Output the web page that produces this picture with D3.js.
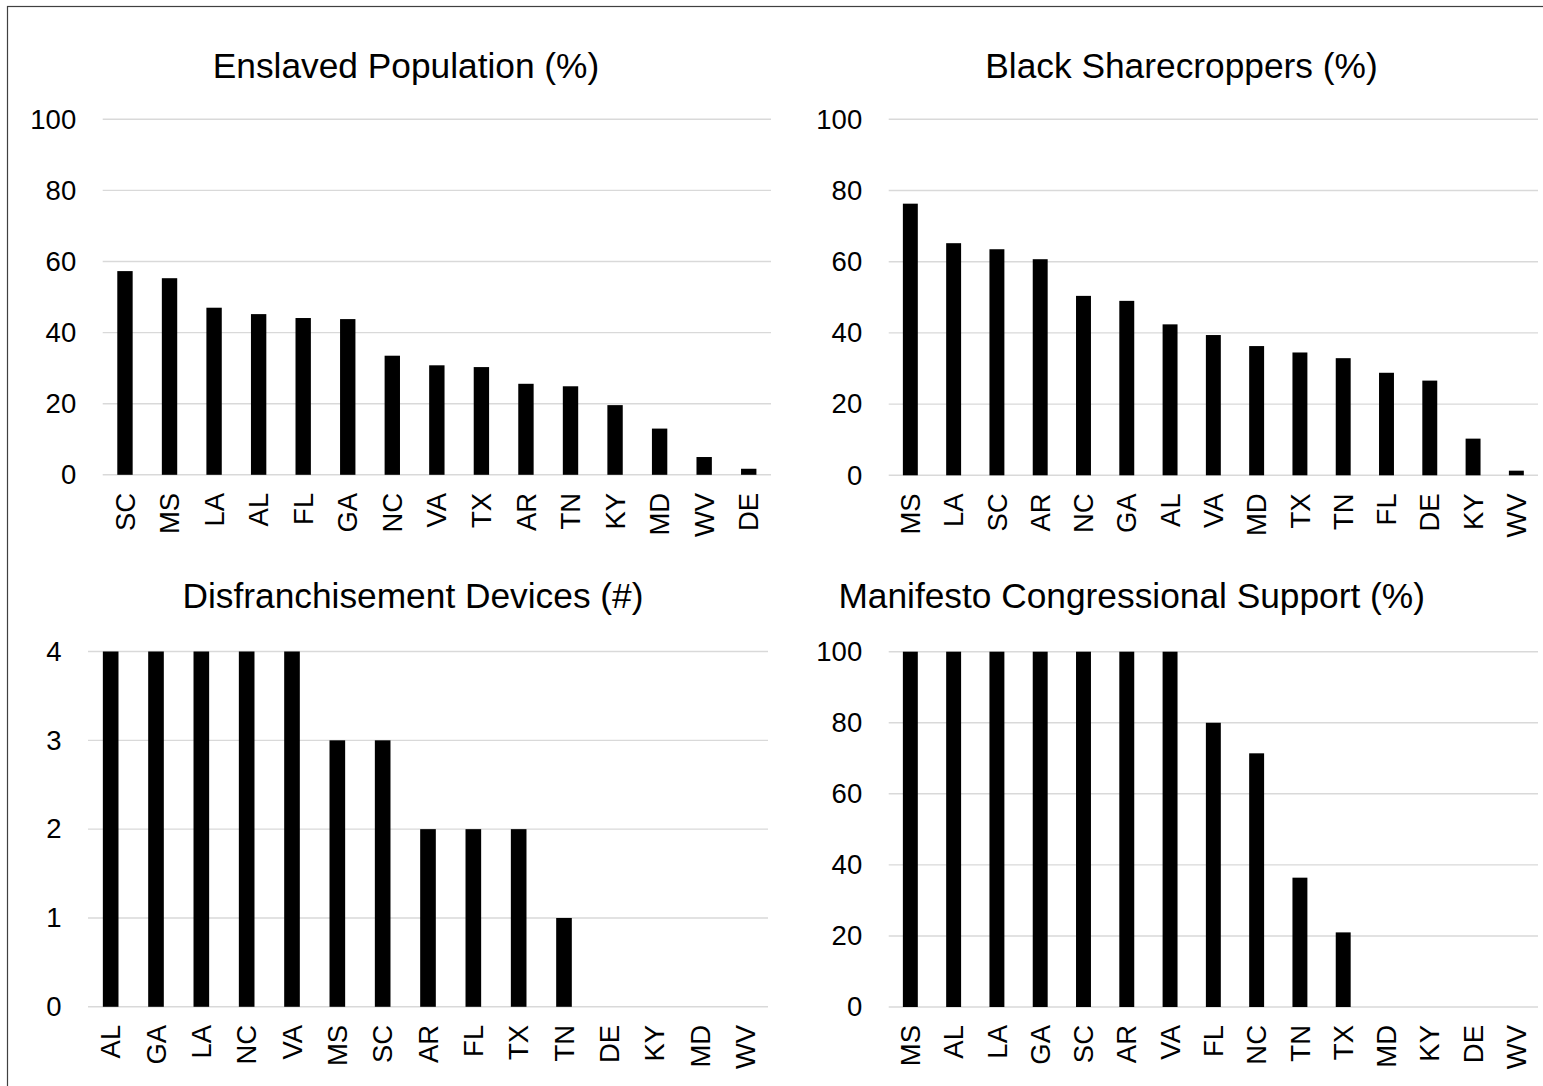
<!DOCTYPE html>
<html>
<head>
<meta charset="utf-8">
<script src="https://cdn.jsdelivr.net/npm/d3@7"></script>
<style>
  body { margin: 0; background: #fff; }
  text { font-family: "Liberation Sans", Arial, sans-serif; fill: #000; }
</style>
</head>
<body>
<script>
// values
var enslavedStates = ["SC", "MS", "LA", "AL", "FL", "GA", "NC", "VA", "TX", "AR", "TN", "KY", "MD", "WV", "DE"];
var enslavedPct = [57.3, 55.3, 47.0, 45.2, 44.1, 43.8, 33.5, 30.8, 30.3, 25.6, 24.9, 19.6, 13.0, 5.0, 1.7];

var sharecropStates = ["MS", "LA", "SC", "AR", "NC", "GA", "AL", "VA", "MD", "TX", "TN", "FL", "DE", "KY", "WV"];
var sharecropPct = [76.3, 65.2, 63.5, 60.7, 50.4, 49.0, 42.4, 39.4, 36.3, 34.5, 32.9, 28.8, 26.6, 10.3, 1.3];

var devicesStates = ["AL", "GA", "LA", "NC", "VA", "MS", "SC", "AR", "FL", "TX", "TN", "DE", "KY", "MD", "WV"];
var devicesCount = [4, 4, 4, 4, 4, 3, 3, 2, 2, 2, 1, 0, 0, 0, 0];

var manifestoStates = ["MS", "AL", "LA", "GA", "SC", "AR", "VA", "FL", "NC", "TN", "TX", "MD", "KY", "DE", "WV"];
var manifestoPct = [100, 100, 100, 100, 100, 100, 100, 80, 71.4, 36.4, 21, 0, 0, 0, 0];

var pctTicks = [0, 20, 40, 60, 80, 100];
var countTicks = [0, 1, 2, 3, 4];

var width = 1543, height = 1086;

var svg = d3.select("body").append("svg")
  .attr("width", width)
  .attr("height", height);

// outer chart border
svg.append("rect")
  .attr("x", 7.5).attr("y", 6.5)
  .attr("width", width)
  .attr("height", height)
  .attr("fill", "none")
  .attr("stroke", "#404040")
  .attr("stroke-width", 1.2);

var panels = [
  { title: "Enslaved Population (%)", cats: enslavedStates, vals: enslavedPct, ticks: pctTicks, max: 100,
    x0: 102.7, x1: 771, y0: 474.8, y1: 119.3, titleX: 406, titleY: 78 },
  { title: "Black Sharecroppers (%)", cats: sharecropStates, vals: sharecropPct, ticks: pctTicks, max: 100,
    x0: 888.7, x1: 1538, y0: 475.3, y1: 119.3, titleX: 1181.5, titleY: 77.5 },
  { title: "Disfranchisement Devices (#)", cats: devicesStates, vals: devicesCount, ticks: countTicks, max: 4,
    x0: 88, x1: 768, y0: 1006.8, y1: 651.5, titleX: 413, titleY: 607.5 },
  { title: "Manifesto Congressional Support (%)", cats: manifestoStates, vals: manifestoPct, ticks: pctTicks, max: 100,
    x0: 888.7, x1: 1538, y0: 1007, y1: 651.7, titleX: 1131.7, titleY: 607.5 }
];

panels.forEach(function(p) {
  var g = svg.append("g");

  var x = d3.scaleBand()
    .domain(p.cats)
    .range([p.x0, p.x1])
    .paddingInner(0.655)
    .paddingOuter(0.3275);

  var y = d3.scaleLinear()
    .domain([0, p.max])
    .range([p.y0, p.y1]);

  // gridlines
  g.selectAll(".grid")
    .data(p.ticks)
    .enter()
    .append("line")
    .attr("x1", p.x0)
    .attr("x2", p.x1)
    .attr("y1", d => y(d))
    .attr("y2", d => y(d))
    .attr("stroke", "#d9d9d9")
    .attr("stroke-width", 1.4);

  // y axis labels
  var leftAxis = d3.axisLeft(y).tickValues(p.ticks).tickFormat(d3.format("d")).tickSize(0).tickPadding(26.5);
  var ya = g.append("g")
    .attr("transform", `translate(${p.x0},0)`)
    .call(leftAxis);
  ya.select(".domain").remove();
  ya.selectAll("text")
    .attr("font-size", "27.5px")
    .attr("fill", "#000");

  // bars
  var data = p.cats.map((c, i) => ({ cat: c, val: p.vals[i] }));
  g.selectAll(".bar")
    .data(data)
    .enter()
    .append("rect")
    .attr("x", d => x(d.cat))
    .attr("width", x.bandwidth())
    .attr("y", d => y(d.val))
    .attr("height", d => y(0) - y(d.val))
    .attr("fill", "#000");

  // category labels, rotated
  var bottomAxis = d3.axisBottom(x).tickSize(0).tickPadding(0);
  var xa = g.append("g")
    .attr("transform", `translate(0,${p.y0})`)
    .call(bottomAxis);
  xa.select(".domain").remove();
  xa.selectAll("text")
    .attr("font-size", "27.5px")
    .attr("fill", "#000")
    .attr("transform", "rotate(-90)")
    .attr("text-anchor", "end")
    .attr("x", -18)
    .attr("y", 0)
    .attr("dy", "0.35em");

  // title
  g.append("text")
    .attr("x", p.titleX)
    .attr("y", p.titleY)
    .attr("text-anchor", "middle")
    .attr("font-size", "35.3px")
    .text(p.title);
});
</script>
</body>
</html>
